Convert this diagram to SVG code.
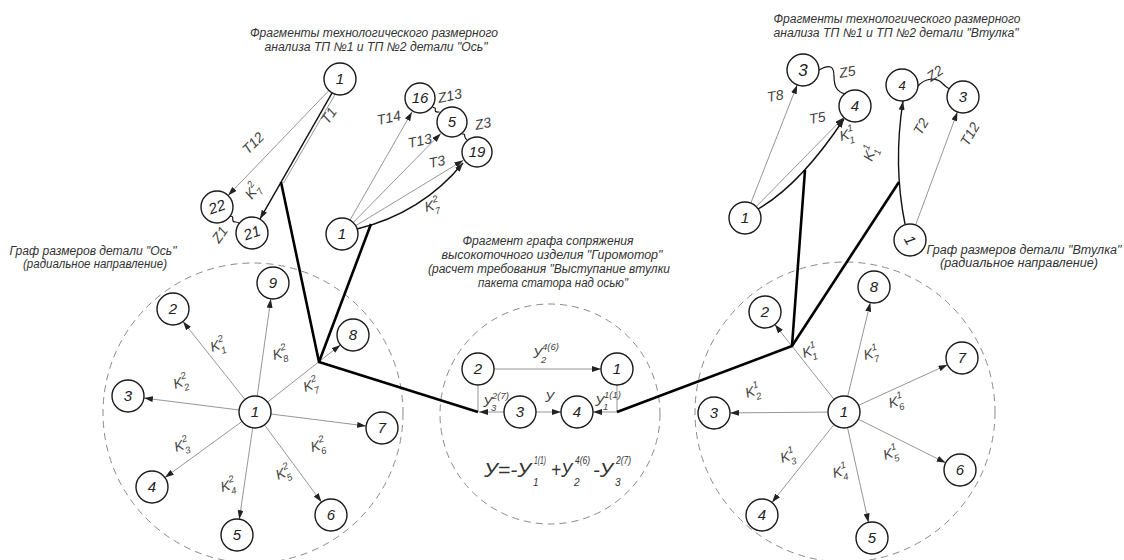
<svg xmlns="http://www.w3.org/2000/svg" width="1124" height="560" viewBox="0 0 1124 560">
<defs>
<marker id="ar" markerUnits="userSpaceOnUse" markerWidth="9" markerHeight="6" refX="9" refY="3" orient="auto"><path d="M0,0 L9,3 L0,6 z" fill="#222"/></marker>
<style>
.bg{fill:#fff}
.n circle{fill:#fff;stroke:#1a1a1a;stroke-width:1.4}
.n text{font-family:"Liberation Sans",Arial,sans-serif;font-style:italic;font-size:15px;text-anchor:middle;fill:#222}
.thin{stroke:#8a8a8a;stroke-width:0.9;fill:none}
.arr{marker-end:url(#ar)}
.blk{stroke:#111;stroke-width:1.4;fill:none}
.thick{stroke:#000;stroke-width:2.6;fill:none;stroke-linejoin:round}
.dash{stroke:#8a8a8a;stroke-width:1;fill:none;stroke-dasharray:7 5}
.wave{stroke:#111;stroke-width:1.2;fill:none}
.t{font-family:"Liberation Sans",Arial,sans-serif;font-style:italic;font-size:12.5px;fill:#333;text-anchor:middle}
.l{font-family:"Liberation Sans",Arial,sans-serif;font-style:italic;font-size:14px;fill:#444}
.s{font-size:9.5px}
.eq{font-family:"Liberation Sans",Arial,sans-serif;font-style:italic;font-size:20px;fill:#333}
.eqs{font-size:10px}
</style>
</defs>
<rect class="bg" x="0" y="0" width="1124" height="560"/>

<!-- dashed boundary circles -->
<g id="regions">
<circle class="dash" cx="253" cy="413" r="150"/>
<circle class="dash" cx="550" cy="414" r="110"/>
<circle class="dash" cx="845" cy="412" r="150"/>
</g>

<!-- titles -->
<g id="titles">
<text class="t" x="374" y="37" textLength="248" lengthAdjust="spacingAndGlyphs">Фрагменты технологического размерного</text>
<text class="t" x="376" y="51" textLength="223" lengthAdjust="spacingAndGlyphs">анализа ТП №1 и ТП №2 детали "Ось"</text>
<text class="t" x="897" y="23" textLength="247" lengthAdjust="spacingAndGlyphs">Фрагменты технологического размерного</text>
<text class="t" x="896" y="37" textLength="245" lengthAdjust="spacingAndGlyphs">анализа ТП №1 и ТП №2 детали "Втулка"</text>
<text class="t" x="548" y="245" textLength="171" lengthAdjust="spacingAndGlyphs">Фрагмент графа сопряжения</text>
<text class="t" x="552" y="259" textLength="221" lengthAdjust="spacingAndGlyphs">высокоточного изделия "Гиромотор"</text>
<text class="t" x="549" y="273" textLength="242" lengthAdjust="spacingAndGlyphs">(расчет требования "Выступание втулки</text>
<text class="t" x="553" y="287" textLength="150" lengthAdjust="spacingAndGlyphs">пакета статора над осью"</text>
<text class="t" x="93" y="255" textLength="167" lengthAdjust="spacingAndGlyphs">Граф размеров детали "Ось"</text>
<text class="t" x="95" y="268" textLength="144" lengthAdjust="spacingAndGlyphs">(радиальное направление)</text>
<text class="t" x="1024" y="254" textLength="195" lengthAdjust="spacingAndGlyphs">Граф размеров детали "Втулка"</text>
<text class="t" x="1019" y="267" textLength="158" lengthAdjust="spacingAndGlyphs">(радиальное направление)</text>
</g>

<!-- connectors -->
<g id="connectors">
<!-- left radial graph -->
<path class="thin arr" d="M257.2,396.1 L270.8,298.9"/>
<path class="thin arr" d="M245,399.5 L183,321.5"/>
<path class="thin arr" d="M267.6,402.1 L340.4,344.9"/>
<path class="thin arr" d="M239.1,410 L143.9,398"/>
<path class="thin arr" d="M270.9,414 L366.1,426"/>
<path class="thin arr" d="M242.1,421.4 L164.9,477.6"/>
<path class="thin arr" d="M252.7,427.8 L239.3,519.2"/>
<path class="thin arr" d="M264.5,424.9 L321.5,502.1"/>
<!-- right radial graph -->
<path class="thin arr" d="M847.7,396.4 L870.3,302.6"/>
<path class="thin arr" d="M834.1,399.4 L774.9,324.6"/>
<path class="thin arr" d="M858.5,405.3 L947.5,364.7"/>
<path class="thin arr" d="M828,412.1 L730,412.9"/>
<path class="thin arr" d="M858.3,419.2 L945.7,462.8"/>
<path class="thin arr" d="M834,424.5 L772,502.5"/>
<path class="thin arr" d="M847.5,427.6 L868.5,522.4"/>
<!-- middle graph -->
<path class="thin arr" d="M494,369 L601,369"/>
<path class="thin" d="M478,385 L478,412"/>
<path class="thin arr" d="M504,412 L479,412"/>
<path class="thin arr" d="M536,412 L561,412"/>
<path class="thin" d="M617,385 L617,412"/>
<path class="thin arr" d="M617,412 L593,412"/>
<!-- top-left fragments -->
<path class="thin arr" d="M328.9,90.5 L228.1,195.5"/>
<path class="thin" d="M335,94.5 L283.5,183"/>
<path class="blk arr" d="M332.1,92.9 L259.9,219.1"/>
<path class="thin arr" d="M350,220.1 L412,111.9"/>
<path class="thin arr" d="M353.2,222.6 L440.8,133.4"/>
<path class="thin arr" d="M355.7,225.7 L463.3,160.3"/>
<path class="blk arr" d="M357,229 Q422,213 463,163"/>
<path class="wave" d="M229.8,216.5 q3.5,-1 3,2.5 q-0.5,3 2.8,3 q3,0 3.6,1.5"/>
<path class="wave" d="M432.8,107.6 q3,-0.5 2.5,2 q-0.5,2.5 2.5,2.5 q1.5,0 1.4,0.3"/>
<path class="wave" d="M462.2,134.3 q2.5,-1 2.5,1.5 q0,2.5 2.1,3.9"/>
<!-- top-right fragments -->
<path class="thin arr" d="M750.8,203.1 L797.2,84.9"/>
<path class="thin arr" d="M756.2,206.6 L843.8,117.4"/>
<path class="blk arr" d="M758,209 Q800,185 844,119"/>
<path class="blk arr" d="M905,224 Q893,165 903,101"/>
<path class="thin arr" d="M915.6,225 L957.4,112"/>
<path class="wave" d="M819,70 C830,64 834,66 834,76 C834,88 838,92 845,94"/>
<path class="wave" d="M918,86 C925,78 936,77 942,83 C945,86 947,88 950,89"/>
<!-- thick linkage lines -->
<path class="thick" d="M281,182 L319,362 L371,224"/>
<path class="thick" d="M319,362 L478,412"/>
<path class="thick" d="M617,412 L792,346 L805,170"/>
<path class="thick" d="M792,346 L899,182"/>
</g>

<!-- connector labels -->
<g id="labels">
<text class="l" transform="translate(212,352) rotate(-18)">K<tspan class="s" dy="-7">2</tspan><tspan class="s" dx="-5.5" dy="12">1</tspan></text>
<text class="l" transform="translate(274,360) rotate(-15)">K<tspan class="s" dy="-7">2</tspan><tspan class="s" dx="-5.5" dy="12">8</tspan></text>
<text class="l" transform="translate(175,389) rotate(-18)">K<tspan class="s" dy="-7">2</tspan><tspan class="s" dx="-5.5" dy="12">2</tspan></text>
<text class="l" transform="translate(305,392) rotate(-18)">K<tspan class="s" dy="-7">2</tspan><tspan class="s" dx="-5.5" dy="12">7</tspan></text>
<text class="l" transform="translate(312,452) rotate(-15)">K<tspan class="s" dy="-7">2</tspan><tspan class="s" dx="-5.5" dy="12">6</tspan></text>
<text class="l" transform="translate(176,452) rotate(-18)">K<tspan class="s" dy="-7">2</tspan><tspan class="s" dx="-5.5" dy="12">3</tspan></text>
<text class="l" transform="translate(222,492) rotate(-15)">K<tspan class="s" dy="-7">2</tspan><tspan class="s" dx="-5.5" dy="12">4</tspan></text>
<text class="l" transform="translate(278,480) rotate(-22)">K<tspan class="s" dy="-7">2</tspan><tspan class="s" dx="-5.5" dy="12">5</tspan></text>

<text class="l" transform="translate(804,358) rotate(-18)">K<tspan class="s" dy="-7">1</tspan><tspan class="s" dx="-5.5" dy="12">1</tspan></text>
<text class="l" transform="translate(865,360) rotate(-15)">K<tspan class="s" dy="-7">1</tspan><tspan class="s" dx="-5.5" dy="12">7</tspan></text>
<text class="l" transform="translate(747,398) rotate(-18)">K<tspan class="s" dy="-7">1</tspan><tspan class="s" dx="-5.5" dy="12">2</tspan></text>
<text class="l" transform="translate(890,408) rotate(-15)">K<tspan class="s" dy="-7">1</tspan><tspan class="s" dx="-5.5" dy="12">6</tspan></text>
<text class="l" transform="translate(782,463) rotate(-18)">K<tspan class="s" dy="-7">1</tspan><tspan class="s" dx="-5.5" dy="12">3</tspan></text>
<text class="l" transform="translate(885,460) rotate(-18)">K<tspan class="s" dy="-7">1</tspan><tspan class="s" dx="-5.5" dy="12">5</tspan></text>
<text class="l" transform="translate(834,478) rotate(-15)">K<tspan class="s" dy="-7">1</tspan><tspan class="s" dx="-5.5" dy="12">4</tspan></text>

<text class="l" transform="translate(248,155) rotate(-45)">T12</text>
<text class="l" transform="translate(328,125) rotate(-55)">T1</text>
<text class="l" transform="translate(252,200) rotate(-55)">K<tspan class="s" dy="-7">2</tspan><tspan class="s" dx="-5.5" dy="12">7</tspan></text>
<text class="l" transform="translate(219,244) rotate(-55)">Z1</text>
<text class="l" transform="translate(378,125) rotate(-12)">T14</text>
<text class="l" transform="translate(409,148) rotate(-12)">T13</text>
<text class="l" transform="translate(430,168) rotate(-12)">T3</text>
<text class="l" transform="translate(426,212) rotate(-15)">K<tspan class="s" dy="-7">2</tspan><tspan class="s" dx="-5.5" dy="12">7</tspan></text>
<text class="l" transform="translate(439,103) rotate(-12)">Z13</text>
<text class="l" transform="translate(476,130) rotate(-12)">Z3</text>

<text class="l" transform="translate(768,102) rotate(-10)">T8</text>
<text class="l" transform="translate(810,124) rotate(-10)">T5</text>
<text class="l" transform="translate(841,141) rotate(-15)">K<tspan class="s" dy="-7">1</tspan><tspan class="s" dx="-5.5" dy="12">1</tspan></text>
<text class="l" transform="translate(840,78) rotate(-10)">Z5</text>
<text class="l" transform="translate(872,162) rotate(-70)">K<tspan class="s" dy="-7">1</tspan><tspan class="s" dx="-5.5" dy="12">1</tspan></text>
<text class="l" transform="translate(921,136) rotate(-60)">T2</text>
<text class="l" transform="translate(968,147) rotate(-60)">T12</text>
<text class="l" transform="translate(931,82) rotate(-35)">Z2</text>

<text class="l"><tspan x="533" y="358">У</tspan><tspan class="s" x="542" y="350">4(6)</tspan><tspan class="s" x="541" y="363">2</tspan></text>
<text class="l"><tspan x="483" y="407">У</tspan><tspan class="s" x="492" y="399">2(7)</tspan><tspan class="s" x="491" y="411">3</tspan></text>
<text class="l"><tspan x="545" y="402">У</tspan></text>
<text class="l"><tspan x="595" y="406">У</tspan><tspan class="s" x="604" y="398">1(1)</tspan><tspan class="s" x="603" y="410">1</tspan></text>

<text class="eq"><tspan x="484" y="477" textLength="47" lengthAdjust="spacingAndGlyphs">У=-У</tspan><tspan class="eqs" x="534" y="464" textLength="12" lengthAdjust="spacingAndGlyphs">1(1)</tspan><tspan class="eqs" x="533" y="486">1</tspan><tspan x="551" y="477" textLength="21" lengthAdjust="spacingAndGlyphs">+У</tspan><tspan class="eqs" x="575" y="464" textLength="15" lengthAdjust="spacingAndGlyphs">4(6)</tspan><tspan class="eqs" x="574" y="486">2</tspan><tspan x="593" y="477" textLength="20" lengthAdjust="spacingAndGlyphs">-У</tspan><tspan class="eqs" x="616" y="464" textLength="15" lengthAdjust="spacingAndGlyphs">2(7)</tspan><tspan class="eqs" x="615" y="486">3</tspan></text>
</g>

<!-- nodes: left radial graph -->
<g id="L1" class="n"><circle cx="255" cy="412" r="16"/><text x="255" y="417">1</text></g>
<g id="L2" class="n"><circle cx="173" cy="309" r="16"/><text x="173" y="314">2</text></g>
<g id="L3" class="n"><circle cx="128" cy="396" r="16"/><text x="128" y="401">3</text></g>
<g id="L4" class="n"><circle cx="152" cy="487" r="16"/><text x="152" y="492">4</text></g>
<g id="L5" class="n"><circle cx="237" cy="535" r="16"/><text x="237" y="540">5</text></g>
<g id="L6" class="n"><circle cx="331" cy="515" r="16"/><text x="331" y="520">6</text></g>
<g id="L7" class="n"><circle cx="382" cy="428" r="16"/><text x="382" y="433">7</text></g>
<g id="L8" class="n"><circle cx="353" cy="335" r="16"/><text x="353" y="340">8</text></g>
<g id="L9" class="n"><circle cx="273" cy="283" r="16"/><text x="273" y="288">9</text></g>

<!-- nodes: middle graph -->
<g id="M1" class="n"><circle cx="617" cy="369" r="16"/><text x="617" y="374">1</text></g>
<g id="M2" class="n"><circle cx="478" cy="369" r="16"/><text x="478" y="374">2</text></g>
<g id="M3" class="n"><circle cx="520" cy="412" r="16"/><text x="520" y="417">3</text></g>
<g id="M4" class="n"><circle cx="577" cy="412" r="16"/><text x="577" y="417">4</text></g>

<!-- nodes: right radial graph -->
<g id="R1" class="n"><circle cx="844" cy="412" r="16"/><text x="844" y="417">1</text></g>
<g id="R2" class="n"><circle cx="765" cy="312" r="16"/><text x="765" y="317">2</text></g>
<g id="R3" class="n"><circle cx="714" cy="413" r="16"/><text x="714" y="418">3</text></g>
<g id="R4" class="n"><circle cx="762" cy="515" r="16"/><text x="762" y="520">4</text></g>
<g id="R5" class="n"><circle cx="872" cy="538" r="16"/><text x="872" y="543">5</text></g>
<g id="R6" class="n"><circle cx="960" cy="470" r="16"/><text x="960" y="475">6</text></g>
<g id="R7" class="n"><circle cx="962" cy="358" r="16"/><text x="962" y="363">7</text></g>
<g id="R8" class="n"><circle cx="874" cy="287" r="16"/><text x="874" y="292">8</text></g>

<!-- nodes: top-left fragments -->
<g id="A1" class="n"><circle cx="340" cy="79" r="16"/><text x="340" y="84">1</text></g>
<g id="A22" class="n"><circle cx="217" cy="207" r="16"/><text x="217" y="212" transform="rotate(-20 217 207)">22</text></g>
<g id="A21" class="n"><circle cx="252" cy="233" r="16"/><text x="252" y="238" transform="rotate(-20 252 233)">21</text></g>
<g id="B1" class="n"><circle cx="342" cy="234" r="16"/><text x="342" y="239">1</text></g>
<g id="B16" class="n"><circle cx="420" cy="98" r="15"/><text x="420" y="103">16</text></g>
<g id="B5" class="n"><circle cx="452" cy="122" r="15"/><text x="452" y="127">5</text></g>
<g id="B19" class="n"><circle cx="477" cy="152" r="15"/><text x="477" y="157">19</text></g>

<!-- nodes: top-right fragments -->
<g id="C3" class="n"><circle cx="803" cy="70" r="16"/><text x="803" y="76" style="font-size:17px">3</text></g>
<g id="C4" class="n"><circle cx="855" cy="106" r="16"/><text x="855" y="111">4</text></g>
<g id="C1" class="n"><circle cx="745" cy="218" r="16"/><text x="745" y="223">1</text></g>
<g id="D4" class="n"><circle cx="902" cy="85" r="16"/><text x="902" y="90" style="font-size:13px">4</text></g>
<g id="D3" class="n"><circle cx="963" cy="97" r="16"/><text x="963" y="102">3</text></g>
<g id="D1" class="n"><circle cx="910" cy="240" r="16"/><text x="910" y="245" transform="rotate(60 910 240)">1</text></g>
</svg>
